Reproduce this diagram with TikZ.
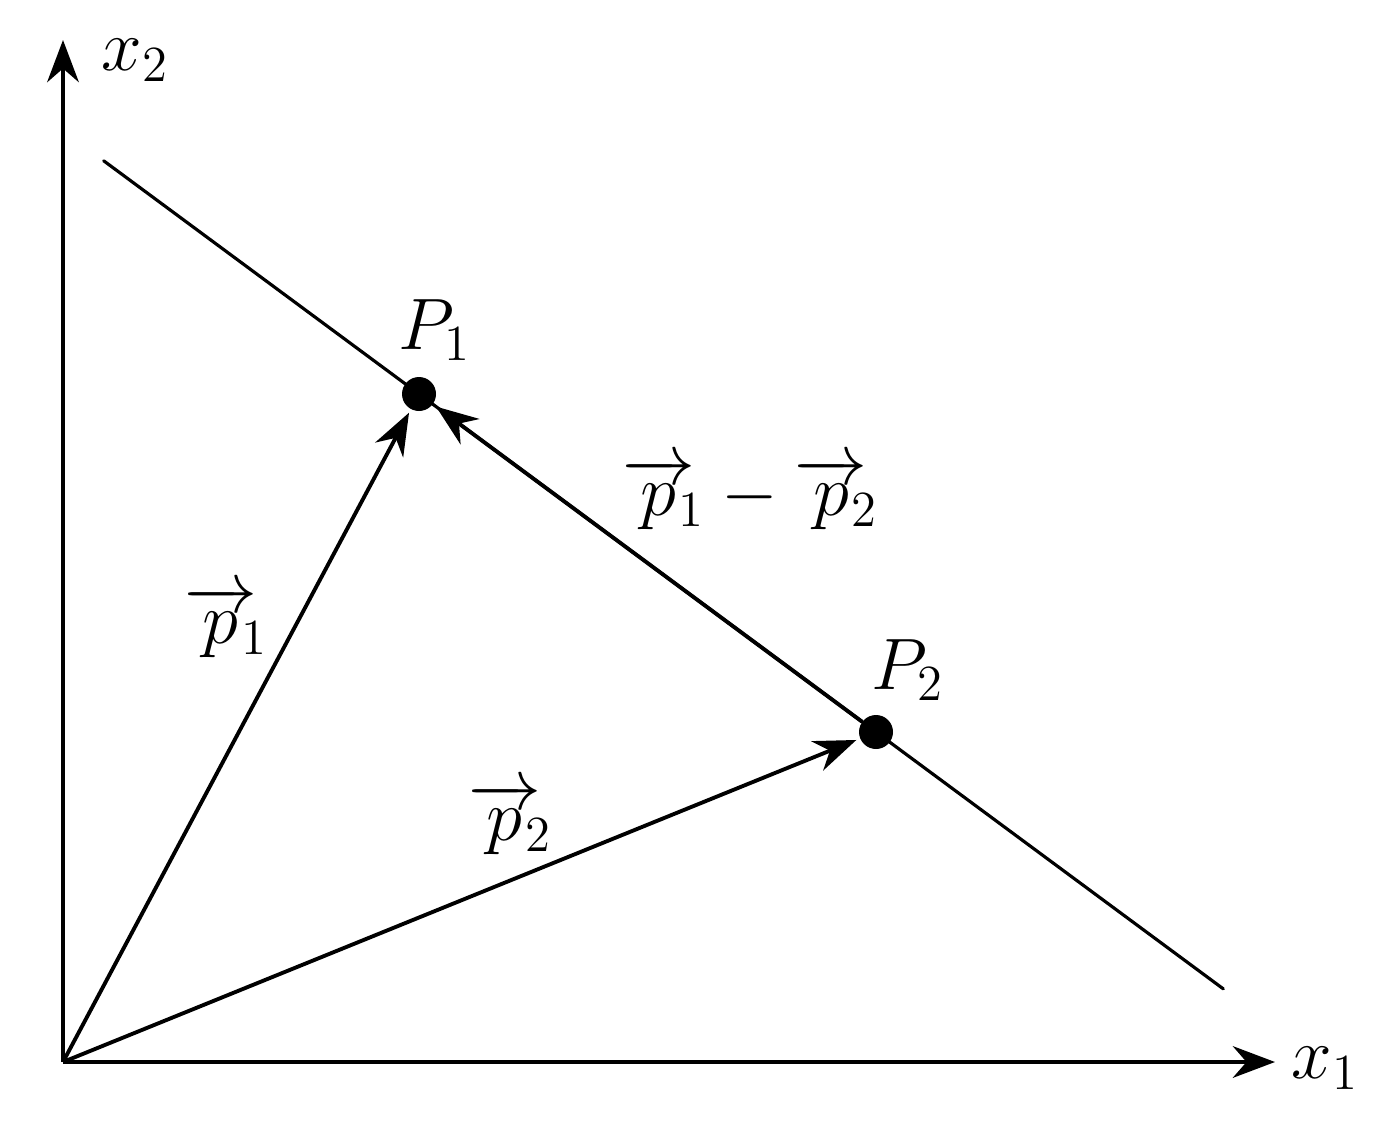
\documentclass[tikz,border=0pt]{standalone}
\usepackage{amsmath,amssymb}
\usepackage{xcolor}
\usetikzlibrary{calc,arrows.meta}
\tikzset{
  axis/.style={draw=black, line width=1.2pt, -{Stealth[length=12pt,width=9pt]}},
  vect/.style={draw=black, line width=1.1pt, -{Stealth[length=12pt,width=9pt]}, shorten >=1pt},
  line/.style={draw=black, line width=0.9pt, line cap=round},
  dot/.style={circle, fill=black, inner sep=0pt, minimum size=0.34cm},
  lab/.style={text=black, font=\fontsize{20}{24}\selectfont},
}
\newcommand{\pv}[1]{\overrightarrow{p}\mkern-4mu{}_{#1}}
\begin{document}
\begin{tikzpicture}
  \useasboundingbox (0,0) rectangle (13.77,11.42);
  \coordinate (O) at (0.63,0.80);
  \coordinate (X) at (12.75,0.80);
  \coordinate (Y) at (0.63,11.02);
  \node[dot] (P1) at (4.19,7.48) {};
  \node[dot] (P2) at (8.76,4.10) {};
  \coordinate (A) at ($(P1)!-0.69!(P2)$);
  \coordinate (B) at ($(P1)!1.76!(P2)$);
  % line through both points
  \draw[line] (A)--(B);
  % axes
  \draw[axis] (O)--(X);
  \draw[axis] (O)--(Y);
  \node[lab] (x1) at (13.25,0.74) {$x_1$};
  \node[lab] (x2) at (1.35,10.82) {$x_2$};
  % vectors
  \draw[vect] (O)--(P1);
  \draw[vect] (O)--(P2);
  \draw[vect] (P2)--(P1);
  \node[lab] (lP1) at (4.35,8.12) {$P_1$};
  \node[lab] (lP2) at (9.08,4.72) {$P_2$};
  \node[lab] (lp1) at (2.26,5.20) {$\pv{1}$};
  \node[lab] (lp2) at (5.10,3.23) {$\pv{2}$};
  \node[lab] (ld) at (7.50,6.48) {$\pv{1}-\pv{2}$};
\end{tikzpicture}
\end{document}
